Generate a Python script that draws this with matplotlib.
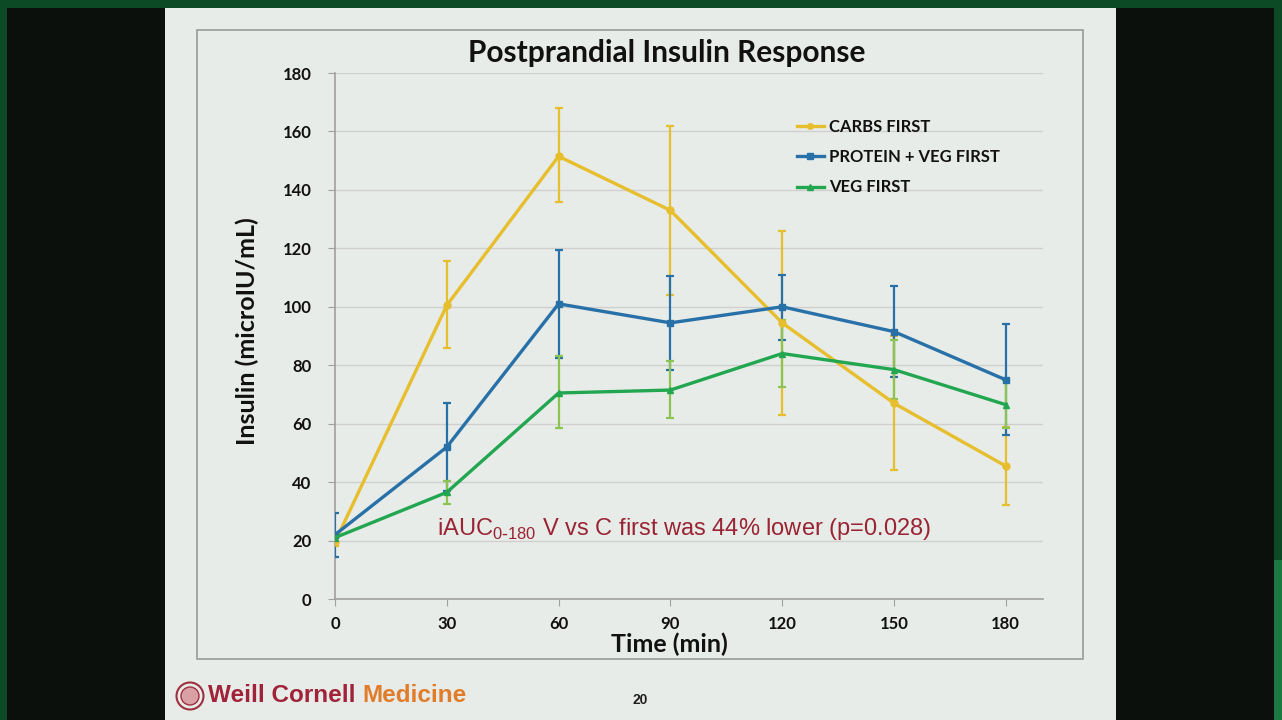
import matplotlib
matplotlib.use("Agg")
import matplotlib.pyplot as plt
from matplotlib.patches import Rectangle, Ellipse
import numpy as np

# ---- data ----
time_min = [0, 30, 60, 90, 120, 150, 180]
x_ticks = [0, 30, 60, 90, 120, 150, 180]
y_ticks = [0, 20, 40, 60, 80, 100, 120, 140, 160, 180]

carbs_first = [19.5, 100.5, 151.5, 133.0, 94.5, 67.0, 45.5]
carbs_lo = [18.0, 86.0, 136.0, 104.0, 63.0, 44.0, 32.0]
carbs_hi = [21.0, 115.5, 168.0, 162.0, 126.0, 90.0, 59.0]

protein_veg_first = [22.0, 52.0, 101.0, 94.5, 100.0, 91.5, 75.0]
protein_lo = [14.5, 37.0, 82.5, 78.5, 88.5, 76.0, 56.0]
protein_hi = [29.5, 67.0, 119.5, 110.5, 111.0, 107.0, 94.0]

veg_first = [21.0, 36.5, 70.5, 71.5, 84.0, 78.5, 66.5]
veg_lo = [19.5, 32.5, 58.5, 62.0, 72.5, 68.5, 58.5]
veg_hi = [22.5, 40.5, 83.0, 81.5, 95.5, 88.5, 75.0]

series_names = ["CARBS FIRST", "PROTEIN + VEG FIRST", "VEG FIRST"]

W, H = 1282, 720
fig = plt.figure(figsize=(W / 100, H / 100), dpi=100)
fig.patch.set_facecolor("#0C4A26")

def frect(x0, y0, x1, y1, z, **kw):
    # pixel coords (top-left origin) -> figure rect
    fig.patches.append(Rectangle((x0 / W, 1 - y1 / H), (x1 - x0) / W, (y1 - y0) / H,
                                 transform=fig.transFigure, zorder=z, **kw))

frect(7, 8, 1274, 720, -10, facecolor="#0C100C", edgecolor="none")
frect(1274, 560, 1282, 720, -10, facecolor="#1A7A40", edgecolor="none")
frect(165, 8, 1116, 720, -9, facecolor="#E8ECE8", edgecolor="none")
frect(197, 30, 1083, 659, -8, facecolor="#E8ECE8", edgecolor="#9A9A9A", lw=1.2)

ax_w = 1043 - 335
ax = fig.add_axes([335 / W, 1 - 599 / H, ax_w / W, (599 - 73) / H])
ax.set_zorder(5)
ax.set_facecolor("none")
ax.set_xlim(0, 190)
ax.set_ylim(0, 180)
ax.set_xticks(x_ticks)
ax.set_yticks(y_ticks)
for s in ["top", "right"]:
    ax.spines[s].set_visible(False)
for s in ["left", "bottom"]:
    ax.spines[s].set_color("#A0A0A0")
    ax.spines[s].set_linewidth(1.2)
ax.yaxis.grid(True, color="#CFCFCF", lw=1)
ax.set_axisbelow(True)
ax.tick_params(axis="both", direction="out", length=5, color="#A0A0A0",
               labelsize=12)
ax.tick_params(axis="x", pad=7)
ax.tick_params(axis="y", pad=12)
for lab in ax.get_xticklabels() + ax.get_yticklabels():
    lab.set_fontfamily("Lato")
    lab.set_fontweight("bold")
    lab.set_color("#111111")

c_yellow = "#E6BE2E"
c_blue = "#2870A8"
c_green = "#22A650"
c_green_err = "#8CC452"

def plot_series(y, lo, hi, color, ecolor, marker, ms, label):
    y = np.array(y); lo = np.array(lo); hi = np.array(hi)
    ax.errorbar(time_min, y, yerr=[y - lo, hi - y], fmt="none", ecolor=ecolor,
                elinewidth=1.6, capsize=3, capthick=1.6, zorder=3)
    ax.plot(time_min, y, color=color, lw=2.4, marker=marker, ms=ms,
            markeredgecolor=color, label=label, zorder=4)

plot_series(carbs_first, carbs_lo, carbs_hi, c_yellow, c_yellow, "o", 5, series_names[0])
plot_series(protein_veg_first, protein_lo, protein_hi, c_blue, c_blue, "s", 5, series_names[1])
plot_series(veg_first, veg_lo, veg_hi, c_green, c_green_err, "^", 5, series_names[2])

leg = ax.legend(loc="upper left", bbox_to_anchor=((782 - 335) / ax_w, (599 - 104) / 526),
                frameon=False, prop={"family": "Lato", "weight": "bold", "size": 12},
                handlelength=1.6, handletextpad=0.3, labelspacing=0.85, markerscale=0.8)
for t in leg.get_texts():
    t.set_color("#111111")

ax.set_xlabel("Time (min)", fontfamily="Lato", fontweight="bold", fontsize=18,
              color="#111111")
ax.xaxis.set_label_coords((669 - 335) / ax_w, -(644 - 599) / 526, transform=ax.transAxes)
ax.xaxis.label.set_va("center")
ax.set_ylabel("Insulin (microIU/mL)", fontfamily="Lato", fontweight="bold", fontsize=18,
              color="#111111")
ax.yaxis.set_label_coords(-(335 - 247) / ax_w, (599 - 331) / 526, transform=ax.transAxes)
ax.yaxis.label.set_va("center")

fig.text(667 / W, 1 - 53 / H, "Postprandial Insulin Response", ha="center", va="center",
         fontfamily="Lato", fontweight="bold", fontsize=21.5, color="#111111")

fig.text(437 / W, 1 - 529 / H,
         r"iAUC$_{\mathregular{0\text{-}180}}$ V vs C first was 44% lower (p=0.028)",
         ha="left", va="center", fontfamily="Liberation Sans", fontsize=17, color="#9A2434")

# footer
cx, cy = 190 / W, 1 - 696 / H
fig.patches.append(Ellipse((cx, cy), 27 / W, 27 / H, transform=fig.transFigure,
                           facecolor="#E8ECE8", edgecolor="#A0303F", lw=1.5, zorder=1))
fig.patches.append(Ellipse((cx, cy), 18 / W, 18 / H, transform=fig.transFigure,
                           facecolor="#D9A0A6", edgecolor="#A0303F", lw=1.0, zorder=1))
t1 = fig.text(208 / W, 1 - 696 / H, "Weill Cornell ", ha="left", va="center",
              fontfamily="Liberation Sans", fontweight="bold", fontsize=17.5, color="#A0233A")
fig.canvas.draw()
bb = t1.get_window_extent()
fig.text(bb.x1 / W, 1 - 696 / H, "Medicine", ha="left", va="center",
         fontfamily="Liberation Sans", fontweight="bold", fontsize=17.5, color="#E07C2A")
fig.text(640 / W, 1 - 700 / H, "20", ha="center", va="center",
         fontfamily="Liberation Sans", fontweight="bold", fontsize=10, color="#222222")

fig.savefig("out.png", dpi=100, facecolor=fig.get_facecolor())
